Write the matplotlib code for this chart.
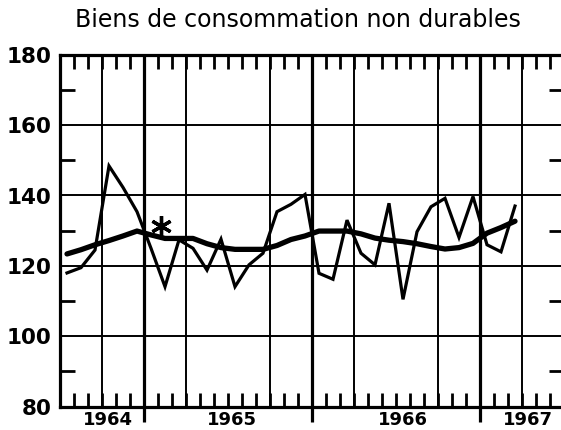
import matplotlib
matplotlib.use("Agg")
import matplotlib.pyplot as plt
from matplotlib.transforms import blended_transform_factory

# ---- data (months counted from January 1964 = 0; points at mid-month) ----
months = [6.5 + k for k in range(33)]
monthly = [118.0, 119.5, 124.5, 148.4, 142.3, 135.4, 125.0, 114.1, 127.4, 125.0,
           118.8, 127.6, 114.1, 120.3, 123.6, 135.4, 137.5, 140.3, 117.9, 116.2,
           133.0, 123.6, 120.3, 137.8, 110.5, 129.7, 136.8, 139.2, 128.1, 139.7,
           126.0, 124.0, 137.0]
trend = [123.4, 124.6, 126.0, 127.2, 128.5, 129.9, 128.8, 127.8, 127.8, 127.8,
         126.3, 125.2, 124.7, 124.7, 124.7, 125.8, 127.5, 128.5, 129.9, 129.9,
         129.9, 129.1, 127.9, 127.3, 126.9, 126.3, 125.5, 124.8, 125.2, 126.4,
         129.3, 130.9, 132.7]
star_x, star_y = 13.2, 131.2

year_labels = ["1964", "1965", "1966", "1967"]
year_label_pos = [9.4, 18.3, 30.5, 39.4]
year_bounds = [12, 24, 36]
quarter_lines = [9, 15, 21, 27, 33, 39]
y_major = [80, 100, 120, 140, 160, 180]
y_minor = [90, 110, 130, 150, 170]
title = "Biens de consommation non durables"

W, H = 561, 430
fig = plt.figure(figsize=(W / 100, H / 100), dpi=100)
ax = fig.add_axes([60 / W, (H - 406.7) / H, 504 / W, (406.7 - 54.7) / H])
ax.set_xlim(6, 42)
ax.set_ylim(80, 180)

# grid
for q in quarter_lines:
    ax.axvline(q, color="black", lw=1.4, zorder=1)
for b in year_bounds:
    ax.axvline(b, color="black", lw=2.3, zorder=1)
for y in y_major[1:-1]:
    ax.axhline(y, color="black", lw=1.4, zorder=1)

# series
ax.plot(months, monthly, color="black", lw=2.3, solid_joinstyle="miter", zorder=3)
ax.plot(months, trend, color="black", lw=3.8, solid_capstyle="round", zorder=3)
ax.plot([star_x], [star_y], marker=(6, 2, 0), color="black", ms=15, mew=2.4, zorder=4)

# spines
for s in ax.spines.values():
    s.set_linewidth(2.3)
    s.set_color("black")

# y ticks
ax.set_yticks(y_major)
ax.set_yticklabels([str(v) for v in y_major], fontsize=15.5, fontweight="bold")
ax.set_yticks(y_minor, minor=True)
ax.tick_params(axis="y", which="major", length=0, pad=6)
ax.tick_params(axis="y", which="minor", direction="in", length=10.5, width=2,
               left=True, right=True)

# x ticks: monthly inward, year boundaries outward
ax.set_xticks(year_bounds)
ax.set_xticklabels([])
ax.set_xticks(range(7, 42), minor=True)
ax.tick_params(axis="x", which="major", direction="out", length=11, width=2.3,
               bottom=True, top=False)
ax.tick_params(axis="x", which="minor", direction="in", length=10, width=2,
               bottom=True, top=True)

trans = blended_transform_factory(ax.transData, fig.transFigure)
for lab, pos in zip(year_labels, year_label_pos):
    ax.text(pos, 1 - 420 / H, lab, transform=trans, ha="center", va="center",
            fontsize=13, fontweight="bold", clip_on=False)

fig.text(298 / W, 1 - 20 / H, title, ha="center", va="center", fontsize=17)

fig.savefig("out.png", dpi=100)
